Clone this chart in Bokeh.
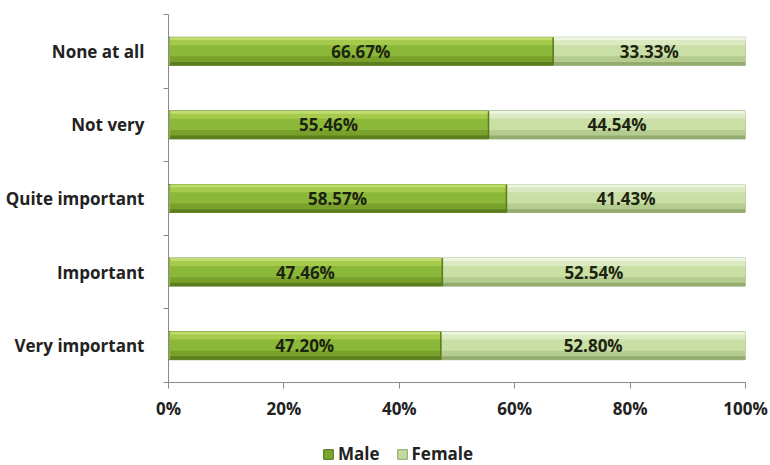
from bokeh.plotting import figure
from bokeh.layouts import column
from bokeh.models import (ColumnDataSource, Range1d, FixedTicker, Legend, LegendItem,
                          LabelSet)
from bokeh.transform import dodge
from bokeh.embed import file_html
from bokeh.resources import INLINE
from bokeh.core.properties import value

# Survey answers, listed from the top row downwards
categories = ["None at all", "Not very", "Quite important", "Important", "Very important"]
male = [66.67, 55.46, 58.57, 47.46, 47.20]
female = [33.33, 44.54, 41.43, 52.54, 52.80]
x_ticks = [0, 20, 40, 60, 80, 100]

FONT = "Open Sans"
FS = "17px"
TXT = "#222222"
n = len(categories)
ypos = [n - 1 - i + 0.5 for i in range(n)]
BAR_H = 0.38

src = ColumnDataSource(dict(
    y=ypos,
    male=male,
    female=female,
    total=[m + f for m, f in zip(male, female)],
    male_mid=[m / 2 for m in male],
    female_mid=[m + f / 2 for m, f in zip(male, female)],
    male_lbl=[f"{m:.2f}%" for m in male],
    female_lbl=[f"{f:.2f}%" for f in female],
))

# Shading bands across the bar height: (offset from centre, thickness, colour) as
# fractions of the bar height, light at the top, dark at the bottom
MALE_SHADE = [(0.36, 0.28, "#a6cb4c"), (0.45, 0.10, "#c0dc6e"),
              (-0.34, 0.32, "#78a02a"), (-0.44, 0.12, "#5c7e1c")]
FEMALE_SHADE = [(0.36, 0.28, "#dceac2"), (0.45, 0.10, "#eef5e2"),
                (-0.34, 0.32, "#b5cc90"), (-0.44, 0.12, "#93ab6c")]

p = figure(width=770, height=440, output_backend="svg", toolbar_location=None,
           x_range=Range1d(0, 100), y_range=Range1d(0, n),
           min_border_left=168, min_border_right=25, min_border_top=14,
           min_border_bottom=58)
p.outline_line_color = None
p.grid.grid_line_color = None

r_male = p.hbar(y="y", left=0, right="male", height=BAR_H, source=src,
                fill_color="#8cb83a", line_color="#5a7a1e", line_width=1)
r_female = p.hbar(y="y", left="male", right="total", height=BAR_H, source=src,
                  fill_color="#cadfa6", line_color="#8fa86c", line_width=1)

for off, th, col in MALE_SHADE:
    p.hbar(y=dodge("y", off * BAR_H), left=0.3, right="male", height=BAR_H * th,
           source=src, fill_color=col, line_color=None)
for off, th, col in FEMALE_SHADE:
    p.hbar(y=dodge("y", off * BAR_H), left="male", right="total", height=BAR_H * th,
           source=src, fill_color=col, line_color=None)
# divider where the two segments meet
p.segment(x0="male", x1="male", y0=dodge("y", -BAR_H / 2), y1=dodge("y", BAR_H / 2),
          source=src, line_color="#5a7a1e", line_width=1.5)

lbl_style = dict(text_align="center", text_baseline="middle", text_font=value(FONT),
                 text_font_style="bold", text_font_size=FS, text_color="#1c2410")
p.add_layout(LabelSet(x="male_mid", y="y", text="male_lbl", source=src, **lbl_style))
p.add_layout(LabelSet(x="female_mid", y="y", text="female_lbl", source=src, **lbl_style))

# X axis
xa = p.xaxis[0]
xa.ticker = FixedTicker(ticks=x_ticks)
xa.major_label_overrides = {t: f"{t}%" for t in x_ticks}
xa.axis_line_color = "#8a8a8a"
xa.major_tick_line_color = "#8a8a8a"
xa.major_tick_out = 6
xa.major_tick_in = 0
xa.minor_tick_line_color = None
xa.major_label_standoff = 8
xa.major_label_text_font = FONT
xa.major_label_text_font_style = "bold"
xa.major_label_text_font_size = FS
xa.major_label_text_color = TXT

# Y axis: labels at row centres, short marks between rows
ya = p.yaxis[0]
ya.ticker = FixedTicker(ticks=ypos, minor_ticks=list(range(n + 1)))
ya.major_label_overrides = {y: c for y, c in zip(ypos, categories)}
ya.major_tick_out = 0
ya.major_tick_in = 0
ya.minor_tick_out = 5
ya.minor_tick_in = 0
ya.minor_tick_line_color = "#8a8a8a"
ya.axis_line_color = "#8a8a8a"
ya.major_label_standoff = 19
ya.major_label_text_font = FONT
ya.major_label_text_font_style = "bold"
ya.major_label_text_font_size = FS
ya.major_label_text_color = TXT

# Legend strip under the chart (its swatches take their colours from hidden bars)
lg = figure(width=770, height=25, output_backend="svg", toolbar_location=None,
            x_range=Range1d(0, 100), y_range=Range1d(0, n),
            x_axis_location=None, y_axis_location=None,
            min_border_left=0, min_border_right=0, min_border_top=0, min_border_bottom=0)
lg.outline_line_color = None
lg.grid.grid_line_color = None
lm = lg.hbar(y="y", left=0, right="male", height=BAR_H, source=src,
             fill_color="#7aa62c", line_color="#4e6c18", visible=False)
lf = lg.hbar(y="y", left="male", right="total", height=BAR_H, source=src,
             fill_color="#c4da9c", line_color="#8aa266", visible=False)
legend = Legend(items=[LegendItem(label="Male", renderers=[lm]),
                       LegendItem(label="Female", renderers=[lf])],
                orientation="horizontal", location=(154, 0),
                label_text_font=FONT, label_text_font_style="bold",
                label_text_font_size=FS, label_text_color=TXT,
                glyph_width=12, glyph_height=12, label_standoff=4, spacing=16,
                label_height=18, inactive_fill_alpha=0,
                border_line_color=None, background_fill_alpha=0, padding=0, margin=0)
lg.add_layout(legend, "center")

layout = column(p, lg, spacing=0)
open("out.html", "w").write(file_html(layout, INLINE))
